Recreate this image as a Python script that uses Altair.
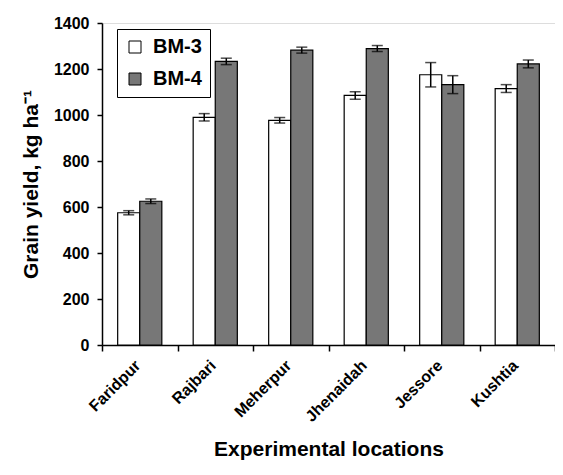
import altair as alt
import pandas as pd

locations = ["Faridpur", "Rajbari", "Meherpur", "Jhenaidah", "Jessore", "Kushtia"]
bm3 = [575, 990, 977, 1085, 1175, 1115]
bm4 = [625, 1233, 1282, 1289, 1132, 1222]
bm3_err = [9, 16, 12, 16, 53, 17]
bm4_err = [10, 14, 13, 13, 39, 17]
varieties = ["BM-3", "BM-4"]

rows = []
for i, loc in enumerate(locations):
    rows.append({"loc": loc, "var": "BM-3", "val": bm3[i], "lo": bm3[i] - bm3_err[i], "hi": bm3[i] + bm3_err[i]})
    rows.append({"loc": loc, "var": "BM-4", "val": bm4[i], "lo": bm4[i] - bm4_err[i], "hi": bm4[i] + bm4_err[i]})
df = pd.DataFrame(rows)

FONT = "Liberation Sans"

x = alt.X("loc:N", sort=locations,
          scale=alt.Scale(paddingInner=0, paddingOuter=0),
          axis=alt.Axis(title="Experimental locations", labelAngle=-45, labelAlign="right",
                        labelBaseline="top", labelFont=FONT, labelFontSize=16, labelFontWeight="bold",
                        labelColor="black", labelPadding=6, labelOffset=-8, tickBand="extent", tickSize=6,
                        tickColor="black", domainColor="black", domainWidth=1.5, tickWidth=1.5,
                        titleFont=FONT, titleFontSize=21, titleFontWeight="bold", titleColor="black",
                        titleY=110, titleBaseline="alphabetic"))
xo = alt.XOffset("var:N", sort=varieties, scale=alt.Scale(paddingInner=0, paddingOuter=0.71))

y = alt.Y("val:Q", scale=alt.Scale(domain=[0, 1400], nice=False),
          axis=alt.Axis(title="Grain yield, kg ha⁻¹", values=list(range(0, 1401, 200)), grid=False,
                        format="d", labelPadding=8,
                        labelFont=FONT, labelFontSize=16, labelFontWeight="bold", labelColor="black",
                        tickSize=5, tickColor="black", domainColor="black", domainWidth=1.5, tickWidth=1.5,
                        titleFont=FONT, titleFontSize=21, titleFontWeight="bold", titleColor="black",
                        titlePadding=12))

bars = alt.Chart(df).mark_bar(stroke="black", strokeWidth=1.2).encode(
    x=x, xOffset=xo, y=y,
    fill=alt.Fill("var:N", sort=varieties,
                  scale=alt.Scale(domain=varieties, range=["white", "#777777"]),
                  legend=alt.Legend(title=None, orient="none", legendX=15, legendY=6,
                                    symbolType="square", symbolSize=144, symbolStrokeColor="black",
                                    symbolStrokeWidth=1, labelFont=FONT, labelFontSize=20,
                                    labelFontWeight="bold", labelColor="black",
                                    strokeColor="black", fillColor="white", padding=8,
                                    rowPadding=12, labelOffset=8)),
)

rules = alt.Chart(df).mark_rule(color="black", strokeWidth=1.5).encode(
    x=alt.X("loc:N", sort=locations), xOffset=xo,
    y=alt.Y("lo:Q"), y2="hi:Q")

caps_lo = alt.Chart(df).mark_tick(color="black", thickness=1.5, size=11, orient="horizontal").encode(
    x=alt.X("loc:N", sort=locations), xOffset=xo, y=alt.Y("lo:Q"))
caps_hi = alt.Chart(df).mark_tick(color="black", thickness=1.5, size=11, orient="horizontal").encode(
    x=alt.X("loc:N", sort=locations), xOffset=xo, y=alt.Y("hi:Q"))

chart = alt.layer(bars, rules, caps_lo, caps_hi).properties(
    width=453, height=322,
    autosize=alt.AutoSizeParams(type="none"),
    padding={"left": 94, "top": 15, "right": 0, "bottom": 115},
).configure_view(stroke=None).configure(background="white")

chart.save("out.html", embed_options={"renderer": "svg", "actions": False})
